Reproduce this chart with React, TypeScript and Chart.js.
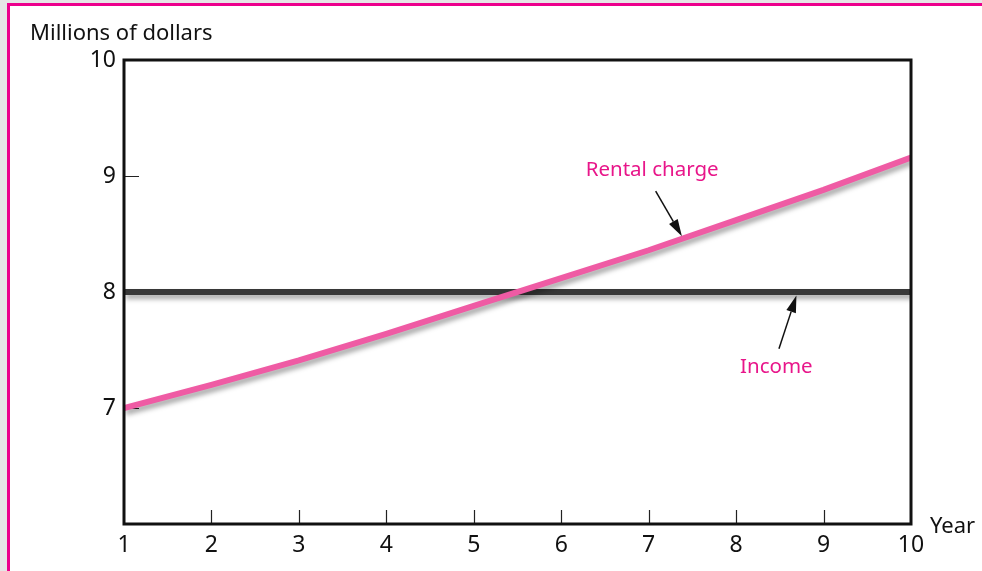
import React, { useEffect, useRef } from 'react';
import { Chart, registerables } from 'chart.js';
Chart.register(...registerables);

const years = [1, 2, 3, 4, 5, 6, 7, 8, 9, 10];
const rentalCharge = [7.0, 7.2, 7.41, 7.64, 7.88, 8.12, 8.36, 8.62, 8.88, 9.16];
const income = [8, 8, 8, 8, 8, 8, 8, 8, 8, 8];
const yTickValues = [7, 8, 9, 10];
const xTickValues = [1, 2, 3, 4, 5, 6, 7, 8, 9, 10];
const yAxisTitle = 'Millions of dollars';
const xAxisTitle = 'Year';
const seriesNames = ['Rental charge', 'Income'];

// annotation anchors in data coordinates (year, millions)
const rentalNote = { text: 'Rental charge', lx: 7.04, ly: 9.0, fx: 7.08, fy: 8.87, tx: 7.38, ty: 8.48 };
const incomeNote = { text: 'Income', lx: 8.46, ly: 7.3, fx: 8.49, fy: 7.51, tx: 8.69, ty: 7.97 };

const FONT = '"Noto Sans", sans-serif';
const NOTE_COLOR = '#e8168a';

export default function App() {
  const ref = useRef<HTMLCanvasElement | null>(null);

  useEffect(() => {
    const canvas = ref.current;
    if (!canvas) return;

    const shadowPlugin = {
      id: 'shadow',
      beforeDatasetDraw(chart: any) {
        const ctx = chart.ctx;
        ctx.save();
        ctx.shadowColor = 'rgba(0,0,0,0.35)';
        ctx.shadowBlur = 5;
        ctx.shadowOffsetX = 2;
        ctx.shadowOffsetY = 4;
      },
      afterDatasetDraw(chart: any) {
        chart.ctx.restore();
      },
    };

    const decoPlugin = {
      id: 'deco',
      beforeDatasetsDraw(chart: any) {
        const ctx = chart.ctx;
        const a = chart.chartArea;
        const xs = chart.scales.x;
        const ys = chart.scales.y;
        ctx.save();
        ctx.strokeStyle = '#222';
        ctx.lineWidth = 1.2;
        ctx.beginPath();
        xTickValues.forEach((v) => {
          if (v === xs.min || v === xs.max) return;
          const x = Math.round(xs.getPixelForValue(v)) + 0.5;
          ctx.moveTo(x, a.bottom);
          ctx.lineTo(x, a.bottom - 14);
        });
        yTickValues.forEach((v) => {
          if (v === ys.min || v === ys.max) return;
          const y = Math.round(ys.getPixelForValue(v)) + 0.5;
          ctx.moveTo(a.left, y);
          ctx.lineTo(a.left + 15, y);
        });
        ctx.stroke();
        ctx.restore();
      },
      afterDraw(chart: any) {
        const ctx = chart.ctx;
        const a = chart.chartArea;
        const xs = chart.scales.x;
        const ys = chart.scales.y;
        ctx.save();
        // plot frame
        ctx.strokeStyle = '#111';
        ctx.lineWidth = 3;
        ctx.strokeRect(a.left, a.top, a.right - a.left, a.bottom - a.top);

        // axis titles
        ctx.fillStyle = '#111';
        ctx.font = `22px ${FONT}`;
        ctx.textAlign = 'left';
        ctx.textBaseline = 'alphabetic';
        ctx.fillText(yAxisTitle, a.left - 94, a.top - 20);
        ctx.fillText(xAxisTitle, a.right + 19, a.bottom + 9);

        // annotations
        const notes = [rentalNote, incomeNote];
        notes.forEach((n) => {
          ctx.fillStyle = NOTE_COLOR;
          ctx.font = `20.5px ${FONT}`;
          ctx.textAlign = 'center';
          ctx.fillText(n.text, xs.getPixelForValue(n.lx), ys.getPixelForValue(n.ly));
          const fx = xs.getPixelForValue(n.fx);
          const fy = ys.getPixelForValue(n.fy);
          const tx = xs.getPixelForValue(n.tx);
          const ty = ys.getPixelForValue(n.ty);
          const ang = Math.atan2(ty - fy, tx - fx);
          const headLen = 17;
          const headW = 5;
          const bx = tx - headLen * Math.cos(ang);
          const by = ty - headLen * Math.sin(ang);
          ctx.strokeStyle = '#111';
          ctx.lineWidth = 1.5;
          ctx.beginPath();
          ctx.moveTo(fx, fy);
          ctx.lineTo(bx, by);
          ctx.stroke();
          ctx.fillStyle = '#111';
          ctx.beginPath();
          ctx.moveTo(tx, ty);
          ctx.lineTo(bx + headW * Math.sin(ang), by - headW * Math.cos(ang));
          ctx.lineTo(bx - headW * Math.sin(ang), by + headW * Math.cos(ang));
          ctx.closePath();
          ctx.fill();
        });
        ctx.restore();
      },
    };

    const chart = new Chart(canvas, {
      type: 'line',
      data: {
        datasets: [
          {
            label: seriesNames[0],
            data: years.map((y, i) => ({ x: y, y: rentalCharge[i] })),
            borderColor: '#ef5ba4',
            borderWidth: 6,
            pointRadius: 0,
            tension: 0,
          },
          {
            label: seriesNames[1],
            data: years.map((y, i) => ({ x: y, y: income[i] })),
            borderColor: '#383838',
            borderWidth: 6,
            pointRadius: 0,
            tension: 0,
          },
        ],
      },
      options: {
        responsive: false,
        maintainAspectRatio: false,
        devicePixelRatio: 1,
        animation: false,
        layout: { padding: { left: 0, top: 60, right: 71, bottom: 0 } },
        plugins: {
          legend: { display: false },
          tooltip: { enabled: false },
          title: { display: false },
        },
        scales: {
          x: {
            type: 'linear',
            min: 1,
            max: 10,
            afterFit: (s: any) => { s.height = 47; },
            afterBuildTicks: (s: any) => { s.ticks = xTickValues.map((v) => ({ value: v })); },
            grid: { display: false, drawTicks: false },
            border: { display: false },
            ticks: {
              padding: 8,
              color: '#111',
              font: { family: FONT, size: 23 },
              callback: (v: any) => String(v),
            },
          },
          y: {
            type: 'linear',
            min: 6,
            max: 10,
            afterFit: (s: any) => { s.width = 124; },
            afterBuildTicks: (s: any) => { s.ticks = yTickValues.map((v) => ({ value: v })); },
            grid: { display: false, drawTicks: false },
            border: { display: false },
            ticks: {
              padding: 8,
              color: '#111',
              font: { family: FONT, size: 23 },
              callback: (v: any) => String(v),
            },
          },
        },
      },
      plugins: [shadowPlugin, decoPlugin],
    });
    return () => chart.destroy();
  }, []);

  return (
    <div style={{ position: 'fixed', inset: 0, background: '#e6e6e6', overflow: 'hidden' }}>
      <div
        style={{
          position: 'absolute',
          left: 7,
          top: 3,
          width: 1100,
          height: 700,
          border: '3px solid #ec008c',
          background: '#fff',
        }}
      />
      <canvas ref={ref} width={982} height={571} style={{ position: 'absolute', left: 0, top: 0 }} />
    </div>
  );
}
